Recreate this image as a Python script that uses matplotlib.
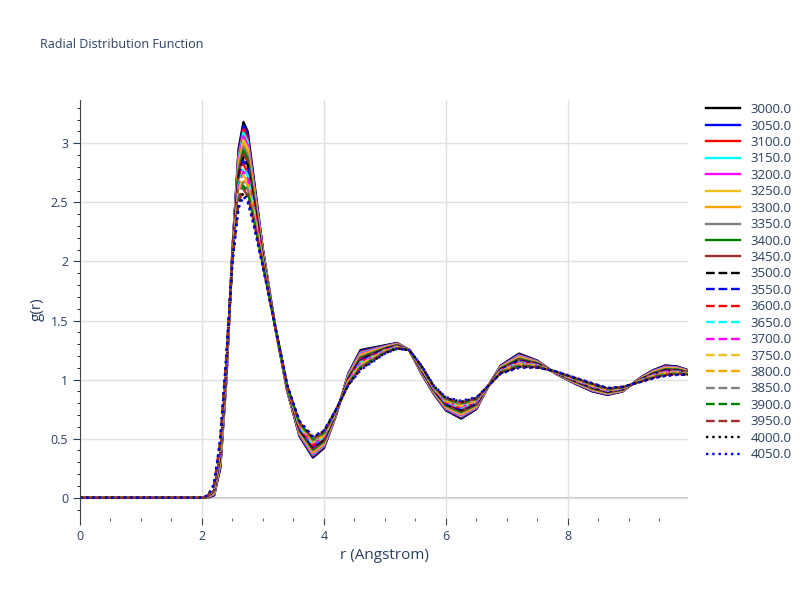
import matplotlib
matplotlib.use("Agg")
import matplotlib.pyplot as plt

plt.rcParams["font.family"] = ["Open Sans", "DejaVu Sans"]

temps = [3000.0 + 50 * i for i in range(22)]
colors = ["#000000", "#0000ff", "#ff0000", "#00ffff", "#ff00ff",
          "#f0c020", "#ffa500", "#808080", "#008000", "#a52a2a"]

r = [0, 0.5, 1, 1.5, 2.0, 2.1, 2.2, 2.3, 2.4, 2.5, 2.6, 2.68, 2.75, 2.85, 3.0,
     3.2, 3.4, 3.6, 3.82, 4.0, 4.2, 4.4, 4.6, 4.8, 5.0, 5.2, 5.4, 5.6, 5.8, 6.0,
     6.25, 6.5, 6.7, 6.9, 7.2, 7.5, 7.8, 8.1, 8.4, 8.65, 8.9, 9.2, 9.4, 9.6,
     9.8, 9.97]
g_cold = [0, 0, 0, 0, 0, 0, 0.02, 0.25, 1.0, 2.1, 2.95, 3.18, 3.1, 2.7, 2.1,
          1.45, 0.9, 0.52, 0.34, 0.42, 0.7, 1.05, 1.25, 1.27, 1.29, 1.31, 1.25,
          1.05, 0.88, 0.74, 0.67, 0.75, 0.95, 1.12, 1.22, 1.16, 1.05, 0.97,
          0.9, 0.87, 0.9, 1.02, 1.08, 1.12, 1.11, 1.08]
g_hot = [0, 0, 0, 0, 0, 0.02, 0.12, 0.5, 1.2, 2.0, 2.45, 2.55, 2.5, 2.3, 1.95,
         1.45, 0.95, 0.65, 0.52, 0.57, 0.75, 0.95, 1.08, 1.15, 1.22, 1.26, 1.25,
         1.12, 0.95, 0.85, 0.82, 0.85, 0.95, 1.05, 1.1, 1.1, 1.07, 1.02, 0.97,
         0.93, 0.94, 0.98, 1.01, 1.03, 1.04, 1.04]

fig = plt.figure(figsize=(8, 6), dpi=100)
ax = fig.add_axes([0.10, 0.137, 0.76, 0.697])
text_color = "#2a3f5f"

n = len(temps)
for i, t in enumerate(temps):
    w = i / (n - 1)
    g = [(1 - w) * c + w * h for c, h in zip(g_cold, g_hot)]
    style = "-" if i < 10 else ("--" if i < 20 else ":")
    ax.plot(r, g, color=colors[i % 10], linestyle=style, linewidth=1.7,
            label=f"{t:.1f}")

ax.set_xlim(0, 9.97)
ax.set_ylim(-0.17, 3.37)
ax.set_xticks([0, 2, 4, 6, 8])
ax.set_yticks([0, 0.5, 1, 1.5, 2, 2.5, 3])
ax.set_yticklabels(["0", "0.5", "1", "1.5", "2", "2.5", "3"])
ax.grid(True, color="#e0e0e0", linewidth=1)
ax.axhline(0, color="#c8c8c8", linewidth=1.5, zorder=0)
ax.set_axisbelow(True)
for side in ["top", "right", "bottom"]:
    ax.spines[side].set_visible(False)
ax.spines["left"].set_color("#444444")
ax.minorticks_on()
ax.tick_params(colors=text_color, labelsize=9, length=5)
ax.tick_params(axis="x", which="both", bottom=True, color="#444444")
ax.set_xlabel("r (Angstrom)", color=text_color, fontsize=11)
ax.set_ylabel("g(r)", color=text_color, fontsize=11)
fig.text(0.05, 0.92, "Radial Distribution Function", color=text_color,
         fontsize=9)
ax.legend(loc="upper left", bbox_to_anchor=(1.01, 1.02), frameon=False,
          fontsize=9.5, labelcolor=text_color, handlelength=2.6,
          labelspacing=0.26)

fig.savefig("out.png")
